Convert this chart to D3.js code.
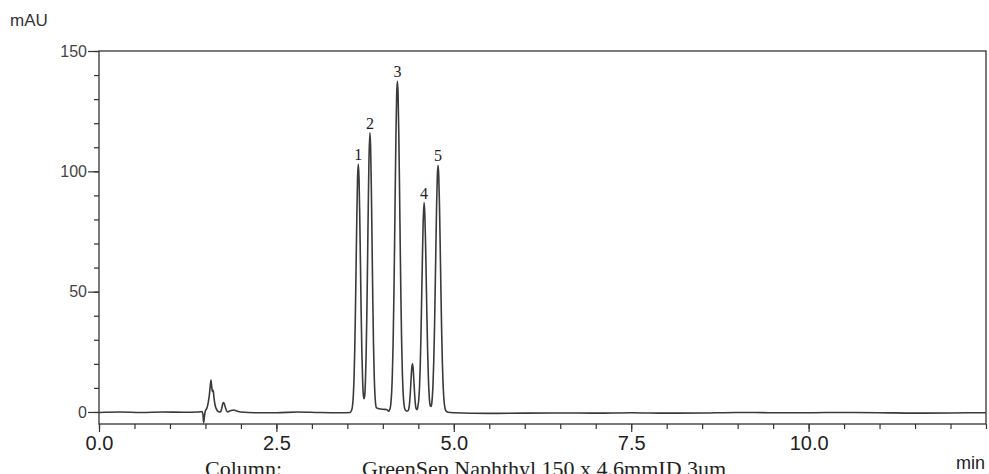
<!DOCTYPE html>
<html>
<head>
<meta charset="utf-8">
<script src="https://cdn.jsdelivr.net/npm/d3@7"></script>
<style>
  html, body { margin: 0; padding: 0; background: #fff; overflow: hidden; }
  svg { display: block; }
</style>
</head>
<body>
<svg id="chart" width="989" height="474"></svg>
<script>
// ---- data ----
const time = [
  0.00, 0.30, 0.60, 0.90, 1.20, 1.40, 1.45, 1.465, 1.475, 1.485, 1.50, 1.52, 1.54, 1.555, 1.565, 1.578,
  1.59, 1.60, 1.61, 1.62, 1.635, 1.65, 1.68, 1.71, 1.73, 1.745, 1.756, 1.77, 1.79, 1.81, 1.85, 1.90,
  1.95, 2.00, 2.20, 2.50, 2.80, 3.10, 3.40, 3.54,
  3.554, 3.564, 3.574, 3.584, 3.594, 3.604, 3.614, 3.624, 3.634, 3.644, 3.654,
  3.664, 3.674, 3.684, 3.694, 3.704, 3.714, 3.724, 3.734, 3.744, 3.754, 3.764, 3.774, 3.784, 3.794, 3.804,
  3.818, 3.828, 3.838, 3.848, 3.858, 3.868, 3.878, 3.888, 3.898, 3.908, 3.92, 3.95, 4.00, 4.05, 4.085,
  4.095, 4.105, 4.115, 4.125, 4.135, 4.145, 4.155, 4.165, 4.175, 4.185, 4.195, 4.205,
  4.215, 4.225, 4.235, 4.245, 4.255, 4.265, 4.275, 4.285, 4.295, 4.305, 4.32, 4.345,
  4.357, 4.367, 4.377, 4.387, 4.397, 4.407, 4.417, 4.427, 4.437, 4.447, 4.457, 4.467, 4.477, 4.487,
  4.497, 4.507, 4.517, 4.527, 4.537, 4.547, 4.557, 4.567, 4.581,
  4.591, 4.601, 4.611, 4.621, 4.631, 4.641, 4.651, 4.661, 4.671, 4.681, 4.691,
  4.698, 4.708, 4.718, 4.728, 4.738, 4.748, 4.758, 4.768, 4.778,
  4.788, 4.798, 4.808, 4.818, 4.828, 4.838, 4.848, 4.858, 4.868, 4.878, 4.888, 4.92,
  5.00, 5.50, 6.00, 6.50, 7.00, 7.50, 8.00, 8.50, 9.00, 9.50, 10.00, 10.50, 11.00, 11.50, 12.00, 12.50
];
const absorbance = [
  -0.2, 0.0, -0.2, 0.0, -0.1, 0.0, 0.2, -1.0, -4.5, -2.0, 0.5, 1.5, 4.0, 7.0, 10.0, 13.3,
  10.0, 8.5, 9.0, 6.0, 3.0, 1.5, 0.2, 0.0, 1.5, 3.5, 3.9, 3.0, 1.0, 0.0, 0.5, 0.8,
  0.3, 0.0, -0.3, -0.3, 0.0, -0.2, -0.3, -0.2,
  0.4, 1.1, 3.0, 6.8, 13.9, 25.6, 42.3, 62.5, 82.5, 97.4, 103.0,
  97.4, 82.5, 62.5, 42.3, 25.6, 14.2, 7.6, 5.5, 6.6, 12.3, 23.0, 39.5, 61.0, 84.2, 104.0,
  116.0, 109.7, 92.9, 70.4, 47.7, 28.9, 15.7, 7.7, 3.4, 1.8, 1.6, 1.3, 1.1, 1.0, 0.3,
  0.9, 1.8, 4.1, 8.6, 16.5, 29.0, 46.6, 68.9, 93.2, 115.6, 131.7, 137.5,
  131.7, 115.6, 93.2, 68.9, 46.6, 29.0, 16.5, 8.6, 4.1, 1.8, 0.7, 0.4,
  0.6, 1.5, 3.8, 7.9, 13.2, 18.0, 20.0, 18.0, 13.2, 7.9, 3.8, 1.6, 1.0, 1.3,
  2.9, 5.5, 10.5, 19.0, 31.5, 47.0, 63.0, 77.5, 87.0,
  82.8, 71.6, 56.0, 39.8, 25.7, 15.0, 7.9, 3.8, 2.4, 2.3, 4.0,
  6.4, 12.3, 21.6, 34.7, 51.4, 69.5, 86.2, 98.2, 102.5,
  98.2, 86.2, 69.5, 51.4, 34.7, 21.6, 12.3, 6.4, 3.1, 1.35, 0.54, -0.1,
  -0.3, -0.6, -0.5, -0.4, -0.5, -0.3, -0.5, -0.4, -0.2, -0.3, -0.3, -0.2, -0.3, -0.5, -0.4, -0.3
];
const peakNames = ["1", "2", "3", "4", "5"];
const peakTimes = [3.654, 3.818, 4.205, 4.581, 4.778];
const peakHeights = [103.0, 116.0, 137.5, 87.0, 102.5];
const xTicks = d3.range(0, 12.5001, 0.5);
const xLabels = [0, 2.5, 5, 7.5, 10];
const yTicks = d3.range(0, 150.001, 10);
const yLabels = [0, 50, 100, 150];
const yUnit = "mAU";
const xUnit = "min";
const captionLabel = "Column:";
const captionValue = "GreenSep Naphthyl 150 x 4.6mmID 3um";

// ---- layout ----
const svg = d3.select("#chart");
const margin = { left: 99, top: 51, right: 3, bottom: 50 };
const W = 989, H = 474;
const x = d3.scaleLinear().domain([0, 12.5]).range([margin.left, W - margin.right]);
const y = d3.scaleLinear().domain([-5, 150]).range([H - margin.bottom, margin.top]);

const axisColor = "#333";

// frame
svg.append("rect")
  .attr("x", x(0)).attr("y", y(150))
  .attr("width", x(12.5) - x(0)).attr("height", y(-5) - y(150))
  .attr("fill", "none").attr("stroke", axisColor).attr("stroke-width", 1.3);

// x axis ticks
const xAxisMinor = d3.axisBottom(x).tickValues(xTicks).tickSize(5).tickFormat("");
const gxm = svg.append("g").attr("transform", `translate(0,${y(-5)})`).call(xAxisMinor);
const xAxisMajor = d3.axisBottom(x).tickValues(xLabels).tickSize(8).tickPadding(4)
  .tickFormat(d3.format(".1f"));
const gx = svg.append("g").attr("transform", `translate(0,${y(-5)})`).call(xAxisMajor);
[gxm, gx].forEach(g => {
  g.select(".domain").remove();
  g.selectAll("line").attr("stroke", axisColor).attr("stroke-width", 1.2);
});
gx.selectAll("text")
  .attr("fill", "#222")
  .style("font-family", "'Liberation Sans Narrow', 'Arial Narrow', 'Liberation Sans', sans-serif")
  .style("font-size", "20px");

// y axis
const yAxisMinor = d3.axisLeft(y).tickValues(yTicks).tickSize(5).tickFormat("");
const gym = svg.append("g").attr("transform", `translate(${x(0)},0)`).call(yAxisMinor);
const yAxisMajor = d3.axisLeft(y).tickValues(yLabels).tickSize(11).tickPadding(1).tickFormat(d3.format("d"));
const gy = svg.append("g").attr("transform", `translate(${x(0)},0)`).call(yAxisMajor);
[gym, gy].forEach(g => {
  g.select(".domain").remove();
  g.selectAll("line").attr("stroke", axisColor).attr("stroke-width", 1.2);
});
gy.selectAll("text")
  .attr("fill", "#444")
  .style("font-family", "'Liberation Sans', Arial, sans-serif")
  .style("font-size", "16px");

// chromatogram line
const pts = time.map((t, i) => [t, absorbance[i]]);
svg.append("path")
  .datum(pts)
  .attr("d", d3.line().x(d => x(d[0])).y(d => y(d[1])).curve(d3.curveMonotoneX))
  .attr("fill", "none")
  .attr("stroke", "#3a3a3a")
  .attr("stroke-width", 1.6)
  .attr("stroke-linejoin", "round");

// peak labels
svg.append("g").selectAll("text")
  .data(peakNames)
  .join("text")
  .attr("x", (d, i) => x(peakTimes[i]))
  .attr("y", (d, i) => y(peakHeights[i]) - 4)
  .attr("text-anchor", "middle")
  .attr("fill", "#222")
  .style("font-family", "'Liberation Serif', 'Times New Roman', serif")
  .style("font-size", "16px")
  .text(d => d);

// units
svg.append("text")
  .attr("x", 10).attr("y", 26)
  .attr("fill", "#333")
  .style("font-family", "'Liberation Sans', Arial, sans-serif")
  .style("font-size", "17px")
  .text(yUnit);
svg.append("text")
  .attr("x", 985).attr("y", 469)
  .attr("text-anchor", "end")
  .attr("fill", "#222")
  .style("font-family", "'Liberation Sans Narrow', 'Arial Narrow', 'Liberation Sans', sans-serif")
  .style("font-size", "18px")
  .text(xUnit);

// caption (cut at the bottom edge, as in the reference)
svg.append("text")
  .attr("x", 205).attr("y", 476)
  .attr("fill", "#222")
  .style("font-family", "'Liberation Serif', 'Times New Roman', serif")
  .style("font-size", "22px")
  .text(captionLabel);
svg.append("text")
  .attr("x", 362).attr("y", 476)
  .attr("fill", "#222")
  .style("font-family", "'Liberation Serif', 'Times New Roman', serif")
  .style("font-size", "22px")
  .text(captionValue);
</script>
</body>
</html>
